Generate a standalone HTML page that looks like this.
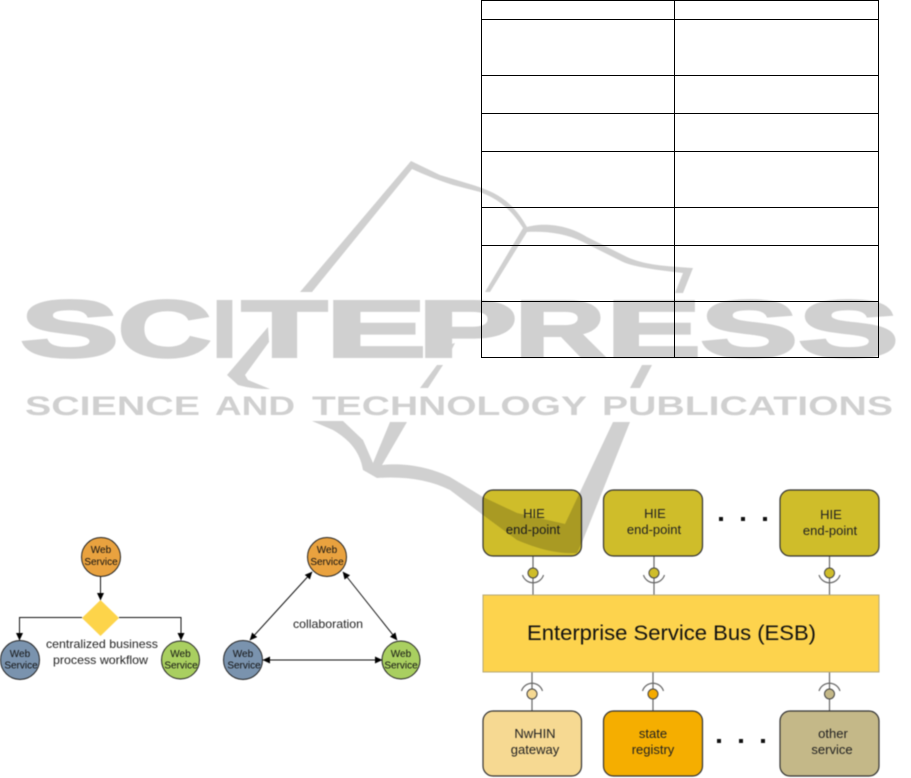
<!DOCTYPE html>
<html><head><meta charset="utf-8"><style>
html,body{margin:0;padding:0;background:#fff}
svg{position:absolute;left:0;top:0;display:block}
text{font-family:"Liberation Sans",sans-serif}
.d{filter:blur(.5px)}
.wm{mix-blend-mode:multiply;filter:blur(.5px)}
.wm text{font-weight:bold;fill:#d0d0d0}
.big text{stroke:#d0d0d0;stroke-width:3;stroke-linejoin:miter}
</style></head><body>
<svg width="911" height="778" viewBox="0 0 911 778" style="position:relative">
<g fill="none" stroke="#000" stroke-width="1" shape-rendering="crispEdges">
<rect x="481.5" y="0.5" width="397" height="357"/>
<path d="M674.5 0V357M481 19.5H878M481 75.5H878M481 113.5H878M481 151.5H878M481 207.5H878M481 245.5H878M481 301.5H878"/>
</g>
<g class="d">
<defs><marker id="a" markerWidth="9" markerHeight="9" refX="7" refY="3.5" orient="auto-start-reverse" markerUnits="userSpaceOnUse"><path d="M0 0L7.500 3.500L0 7z" fill="#000"/></marker></defs>
<g fill="none" stroke="#111" stroke-width="1">
<path d="M100.5 576V600" marker-end="url(#a)"/>
<path d="M82 617.5H19.5V640" marker-end="url(#a)"/>
<path d="M119 617.5H181V640" marker-end="url(#a)"/>
<path d="M312 572L250 640" marker-start="url(#a)" marker-end="url(#a)"/>
<path d="M343 572L397 640" marker-start="url(#a)" marker-end="url(#a)"/>
<path d="M263 660H382" marker-start="url(#a)" marker-end="url(#a)"/>
</g>
<g stroke="#222" stroke-width="1">
<circle cx="101" cy="557" r="19.5" fill="#e9a23f"/>
<circle cx="20" cy="660" r="19.5" fill="#7a93ae"/>
<circle cx="180.5" cy="660" r="19" fill="#a9cf60"/>
<circle cx="327" cy="557" r="19.5" fill="#e9a23f"/>
<circle cx="243" cy="660" r="19.5" fill="#7a93ae"/>
<circle cx="401" cy="660" r="19" fill="#a9cf60"/>
</g>
<polygon points="100.5,600 119,618 100.5,636 82,618" fill="#fdd44a"/>
<g font-size="10" fill="#111" text-anchor="middle">
<text x="101" y="553">Web</text><text x="101" y="565">Service</text>
<text x="20" y="657">Web</text><text x="21" y="668.500">Service</text>
<text x="180.500" y="657">Web</text><text x="181" y="668.500">Service</text>
<text x="327" y="553">Web</text><text x="327" y="565">Service</text>
<text x="243" y="657">Web</text><text x="244" y="668.500">Service</text>
<text x="401" y="657">Web</text><text x="401" y="668.500">Service</text>
</g>
<g font-size="12" fill="#222">
<text x="46" y="648" textLength="112" lengthAdjust="spacingAndGlyphs">centralized business</text>
<text x="53" y="664" textLength="95" lengthAdjust="spacingAndGlyphs">process workflow</text>
<text x="293" y="628" textLength="70" lengthAdjust="spacingAndGlyphs">collaboration</text>
</g>

<g stroke="#666" stroke-width="1.2" fill="none">
<path d="M533 556V595M654 556V595M829.500 556V595M532 672V711M653 672V711M829.500 672V711"/>
<path d="M522.500 575A11 11 0 0 0 543.500 575M643.500 575A11 11 0 0 0 664.500 575M819 575A11 11 0 0 0 840 575"/>
<path d="M521.500 691A11 11 0 0 1 542.500 691M642.500 691A11 11 0 0 1 663.500 691M819 691A11 11 0 0 1 840 691"/>
</g>
<g stroke="#444" stroke-width="1">
<circle cx="533" cy="573" r="5" fill="#cfbd2a"/><circle cx="654" cy="573" r="5" fill="#cfbd2a"/><circle cx="829.500" cy="573" r="5" fill="#cfbd2a"/>
<circle cx="532" cy="694" r="5" fill="#f6d992"/><circle cx="653" cy="694" r="5" fill="#f5ab00"/><circle cx="829.500" cy="694" r="5" fill="#c4b888"/>
</g>
<rect x="483" y="595" width="396" height="77" fill="#fdd34d" stroke="#b5a878" stroke-width="1"/>
<g stroke="#333" stroke-width="1.2">
<rect x="483" y="490" width="98.500" height="66" rx="10" fill="#cfbd2a"/>
<rect x="603.500" y="490" width="99" height="66" rx="10" fill="#cfbd2a"/>
<rect x="780" y="490" width="99" height="66" rx="10" fill="#cfbd2a"/>
<rect x="483" y="711" width="98.500" height="65" rx="10" fill="#f6d992"/>
<rect x="603.500" y="711" width="99" height="65" rx="10" fill="#f5ae00"/>
<rect x="780" y="711" width="99" height="65" rx="10" fill="#c4b888"/>
</g>
<g fill="#111">
<rect x="719" y="517" width="4" height="4"/><rect x="741" y="517" width="4" height="4"/><rect x="763" y="517" width="4" height="4"/>
<rect x="717" y="739" width="4" height="4"/><rect x="739" y="739" width="4" height="4"/><rect x="761" y="739" width="4" height="4"/>
</g>
<text x="527" y="640" font-size="21.500" fill="#111" textLength="289" lengthAdjust="spacingAndGlyphs">Enterprise Service Bus (ESB)</text>
<g font-size="13" fill="#222" text-anchor="middle">
<text x="534" y="518">HIE</text><text x="533" y="534">end-point</text>
<text x="655" y="518">HIE</text><text x="654" y="534">end-point</text>
<text x="831" y="519">HIE</text><text x="830" y="535">end-point</text>
<text x="535" y="738">NwHIN</text><text x="535" y="754">gateway</text>
<text x="653" y="738">state</text><text x="653" y="754">registry</text>
<text x="833" y="738">other</text><text x="832" y="754">service</text>
</g>
</g>
</svg>
<svg class="wm" width="911" height="778" viewBox="0 0 911 778">
<g fill="#d0d0d0">
<path d="M411 161L440 175L473 185C495 192 512 200 527 227C540 223 565 223 587 237L627 257C645 265 665 266 693 268L683 293H675L683 273C655 270 635 267 623 262L583 242C565 233 545 231 527 232L490 292H485L523 228C510 208 498 199 480 192L453 185C440 181 425 175 412 169L312 292H300Z"/>
<path d="M268 327L227 375L238 385C248 388 260 389 270 389L248 380L245 375L269 342Z"/>
<path d="M448 345L455 343L450 353Z"/>
<path d="M437 365H443L428 388H420Z"/>
<path d="M642 365H652L640 388H630Z"/>
<path d="M312 421H343L363 440L373 463L390 422H407L382 465C400 463 425 465 450 477L483 497L517 513L565 524L613 422H630L583 540L577 553C560 554 540 550 517 540L483 515L450 490C430 480 405 476 377 478L363 470C360 452 350 440 333 430Z"/>
</g>
<g class="big" font-size="80">
<text x="20.600" y="356.500" textLength="98" lengthAdjust="spacingAndGlyphs">S</text>
<text x="118" y="356.500" textLength="93" lengthAdjust="spacingAndGlyphs">C</text>
<text x="212.500" y="356.500" textLength="24" lengthAdjust="spacingAndGlyphs">I</text>
<text x="242" y="356.500" textLength="85" lengthAdjust="spacingAndGlyphs">T</text>
<text x="326" y="356.500" textLength="100" lengthAdjust="spacingAndGlyphs">E</text>
<text x="418" y="356.500" textLength="99" lengthAdjust="spacingAndGlyphs">P</text>
<text x="515" y="356.500" textLength="90" lengthAdjust="spacingAndGlyphs">R</text>
<text x="606.600" y="356.500" textLength="94" lengthAdjust="spacingAndGlyphs">E</text>
<text x="700.700" y="356.500" textLength="97" lengthAdjust="spacingAndGlyphs">S</text>
<text x="798.500" y="356.500" textLength="100" lengthAdjust="spacingAndGlyphs">S</text>
</g>
<g font-size="27">
<text x="25" y="415" textLength="175" lengthAdjust="spacingAndGlyphs">SCIENCE</text>
<text x="215" y="415" textLength="80" lengthAdjust="spacingAndGlyphs">AND</text>
<text x="312" y="415" textLength="275" lengthAdjust="spacingAndGlyphs">TECHNOLOGY</text>
<text x="602" y="415" textLength="291" lengthAdjust="spacingAndGlyphs">PUBLICATIONS</text>
</g>
</svg>
</body></html>
